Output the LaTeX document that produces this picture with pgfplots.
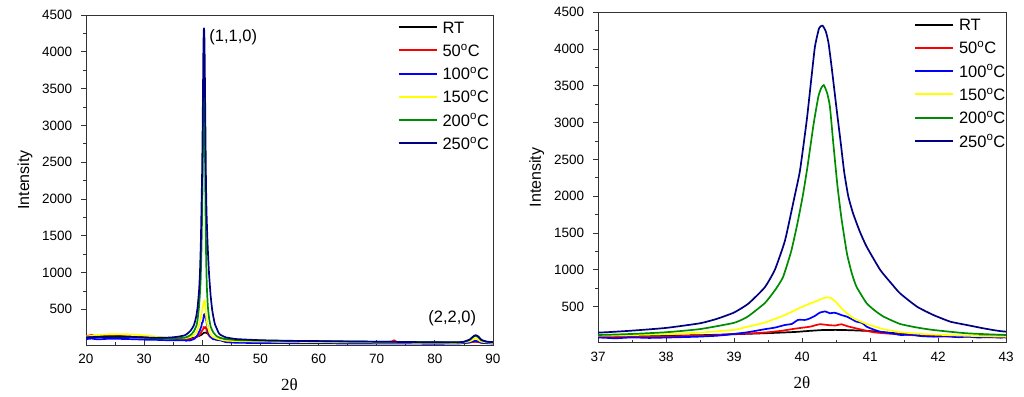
\documentclass[border=0pt]{standalone}
\usepackage{pgfplots}
\pgfplotsset{compat=1.18}
\usepackage{pgfplotstable}
\usepackage{fontspec}
\setmainfont{Liberation Sans}
\newfontfamily\serifth{Liberation Serif}

\definecolor{cRed}{RGB}{250,0,0}
\definecolor{cBlue}{RGB}{0,0,255}
\definecolor{cYellow}{RGB}{255,255,0}
\definecolor{cGreen}{RGB}{0,140,0}
\definecolor{cNavy}{RGB}{0,0,128}

\pgfplotstableread{
x y
20 112
22 118
24 122
26 124
28 120
30 115
32 110
34 106
36 104
37 103
37.5 104
38 106
38.5 112
39 125
39.5 140
39.9 156
40.1 170
40.3 182
40.5 184
40.7 180
41 168
41.2 152
41.5 130
42 106
42.5 98
43 95
44 90
45 82
50 72
55 68
60 63
65 58
70 55
75 52
80 48
84 46
86 52
87 62
88 52
90 46
}\tRT

\pgfplotstableread{
x y
20 135
21 150
22 132
24 140
26 136
28 128
30 122
32 115
34 106
36 96
37 92
37.25 86
37.5 98
37.75 89
38 92
38.25 100
38.5 105
38.75 112
39 129
39.25 136
39.5 152
39.7 172
39.9 201
40.12 228
40.26 261
40.41 247
40.5 245
40.58 261
40.66 236
40.85 193
41.05 152
41.25 135
41.5 120
41.75 105
42 95
42.25 92
42.5 96
42.75 82
43 85
44 75
46 70
50 65
55 62
60 58
65 55
70 52
72.5 60
73 80
73.5 55
75 50
80 45
85 45
87 58
88 47
90 44
}\tFifty

\pgfplotstableread{
x y
20 95
21 102
22 92
24 100
26 98
28 94
30 88
32 85
34 80
36 78
37 80
37.25 70
37.5 82
37.75 75
38 80
38.25 86
38.47 92
38.75 105
38.96 125
39.2 152
39.45 193
39.6 215
39.75 251
39.85 265
39.94 319
40.05 320
40.12 342
40.2 380
40.26 418
40.34 435
40.41 410
40.47 418
40.51 410
40.58 385
40.66 364
40.75 320
40.8 296
40.88 280
40.95 228
41.05 190
41.15 160
41.3 140
41.45 115
41.6 120
41.75 100
41.94 92
42.1 100
42.3 85
42.43 92
42.6 80
42.75 88
42.92 78
43 82
44 55
46 45
50 42
55 40
60 38
65 36
70 35
75 34
80 33
84 35
86 50
87 75
88 45
90 35
}\tHundred

\pgfplotstableread{
x y
20 130
22 150
24 160
26 163
28 158
30 145
32 130
34 115
36 108
37 106
37.5 114
38 125
38.5 147
39 185
39.2 228
39.45 283
39.75 387
39.95 475
40.1 535
40.21 575
40.3 610
40.36 625
40.42 620
40.5 560
40.6 460
40.75 345
40.95 265
41.2 193
41.45 152
41.7 132
41.94 120
42.5 102
43 92
44 75
46 68
50 62
60 55
70 50
80 45
84 44
86 65
87 105
88 60
90 44
}\tOneFifty

\pgfplotstableread{
x y
20 120
22 128
24 130
26 130
28 125
30 115
32 105
34 102
35 104
36 108
37 115
37.5 129
38 152
38.5 195
39 280
39.2 364
39.45 546
39.6 720
39.72 900
39.84 1250
39.93 1620
40.01 2000
40.08 2400
40.17 2980
40.24 3353
40.28 3466
40.32 3512
40.37 3400
40.41 3220
40.46 2720
40.52 2150
40.58 1700
40.66 1225
40.73 960
40.8 772
40.95 546
41.08 440
41.2 364
41.44 265
41.7 215
41.93 183
42.42 138
43 115
44 95
45 88
46 82
50 75
55 70
60 66
70 60
80 52
84 50
85 58
86 85
86.5 120
87 140
87.5 120
88 80
89 58
90 55
}\tTwoHundred

\pgfplotstableread{
x y
20 118
22 125
24 128
26 130
28 125
30 118
32 112
34 115
35 120
36 130
37 147
37.5 174
38 211
38.5 274
38.75 335
39 420
39.21 540
39.45 760
39.6 1000
39.75 1400
39.89 1995
39.97 2350
40.07 3037
40.14 3625
40.19 4033
40.25 4282
40.3 4320
40.35 4240
40.39 4080
40.44 3720
40.51 3173
40.57 2720
40.62 2330
40.68 2000
40.75 1769
40.85 1520
40.95 1315
41.15 999
41.3 830
41.44 682
41.69 500
41.93 387
42.18 296
42.42 251
42.7 200
43 160
44 120
45 105
46 95
50 80
55 72
60 68
70 60
80 52
84 52
85 60
86 90
86.5 125
87 150
87.5 130
88 85
89 60
90 55
}\tTwoFifty

\pgfplotsset{
  xrdaxis/.style={
    scale only axis,
    anchor=south west,
    axis line style={black!80, line width=0.9pt},
    xtick align=inside,
    ytick align=outside,
    xtick pos=bottom, ytick pos=left,
    major tick length=5pt, minor tick length=3pt,
    minor x tick num=1, minor y tick num=1,
    every tick/.style={black!80, line width=0.8pt},
    ytick={500,1000,...,4500},
    ymax=4500,
    tick label style={font=\fontsize{13.5}{15}\selectfont, inner sep=0pt},
    /pgf/number format/assume math mode=true,
    /pgf/number format/1000 sep={},
    xticklabel shift=9pt, yticklabel shift=8.7pt,
    ylabel={Intensity},
    ylabel style={font=\fontsize{16}{18}\selectfont, at={(axis description cs:-0.15,0.5)}, anchor=center},
    xlabel={\serifth 2θ},
    xlabel style={font=\fontsize{17}{19}\selectfont, at={(axis description cs:0.5,-0.121)}, anchor=center},
    legend style={draw=none, fill=none, font=\fontsize{16.5}{18}\selectfont, anchor=north west, inner sep=0pt, row sep=11.1pt, column sep=5pt, nodes={inner sep=0pt, text height=12.2pt, text depth=0pt}},
    legend cell align=left,
    legend image code/.code={\draw[##1, line width=2pt, smooth=false] (0pt,0pt) -- (38pt,0pt);},
    every axis plot/.append style={line width=1.7pt, line join=round, smooth, tension=0.3},
  }
}

\begin{document}
\begin{tikzpicture}[x=1pt,y=1pt]
\useasboundingbox (0,0) rectangle (1024,396);
\begin{axis}[xrdaxis,
  at={(86pt,51pt)}, width=407pt, height=330pt,
  xmin=20, xmax=90, ymin=15,
  xtick={20,30,...,90},
  legend style={at={(axis description cs:0.765,0.983)}},
]
\addplot[black] table {\tRT};
\addplot[cRed] table {\tFifty};
\addplot[cBlue] table {\tHundred};
\addplot[cYellow] table {\tOneFifty};
\addplot[cGreen] table {\tTwoHundred};
\addplot[cNavy] table {\tTwoFifty};
\legend{RT, 50\textsuperscript{o}C, 100\textsuperscript{o}C, 150\textsuperscript{o}C, 200\textsuperscript{o}C, 250\textsuperscript{o}C}
\node[anchor=west, font=\fontsize{16.5}{18}\selectfont, inner sep=0pt] at (axis cs:41.2,4200) {(1,1,0)};
\node[anchor=center, font=\fontsize{16.5}{18}\selectfont, inner sep=0pt] at (axis cs:83.0,382) {(2,2,0)};
\end{axis}
\begin{axis}[xrdaxis,
  at={(598pt,53.3pt)}, width=408pt, height=330.4pt,
  xmin=37, xmax=43, ymin=10,
  xtick={37,38,...,43},
  legend style={at={(axis description cs:0.774,0.982)}},
]
\addplot[black] table {\tRT};
\addplot[cRed] table {\tFifty};
\addplot[cBlue] table {\tHundred};
\addplot[cYellow] table {\tOneFifty};
\addplot[cGreen] table {\tTwoHundred};
\addplot[cNavy] table {\tTwoFifty};
\legend{RT, 50\textsuperscript{o}C, 100\textsuperscript{o}C, 150\textsuperscript{o}C, 200\textsuperscript{o}C, 250\textsuperscript{o}C}
\end{axis}
\end{tikzpicture}
\end{document}
